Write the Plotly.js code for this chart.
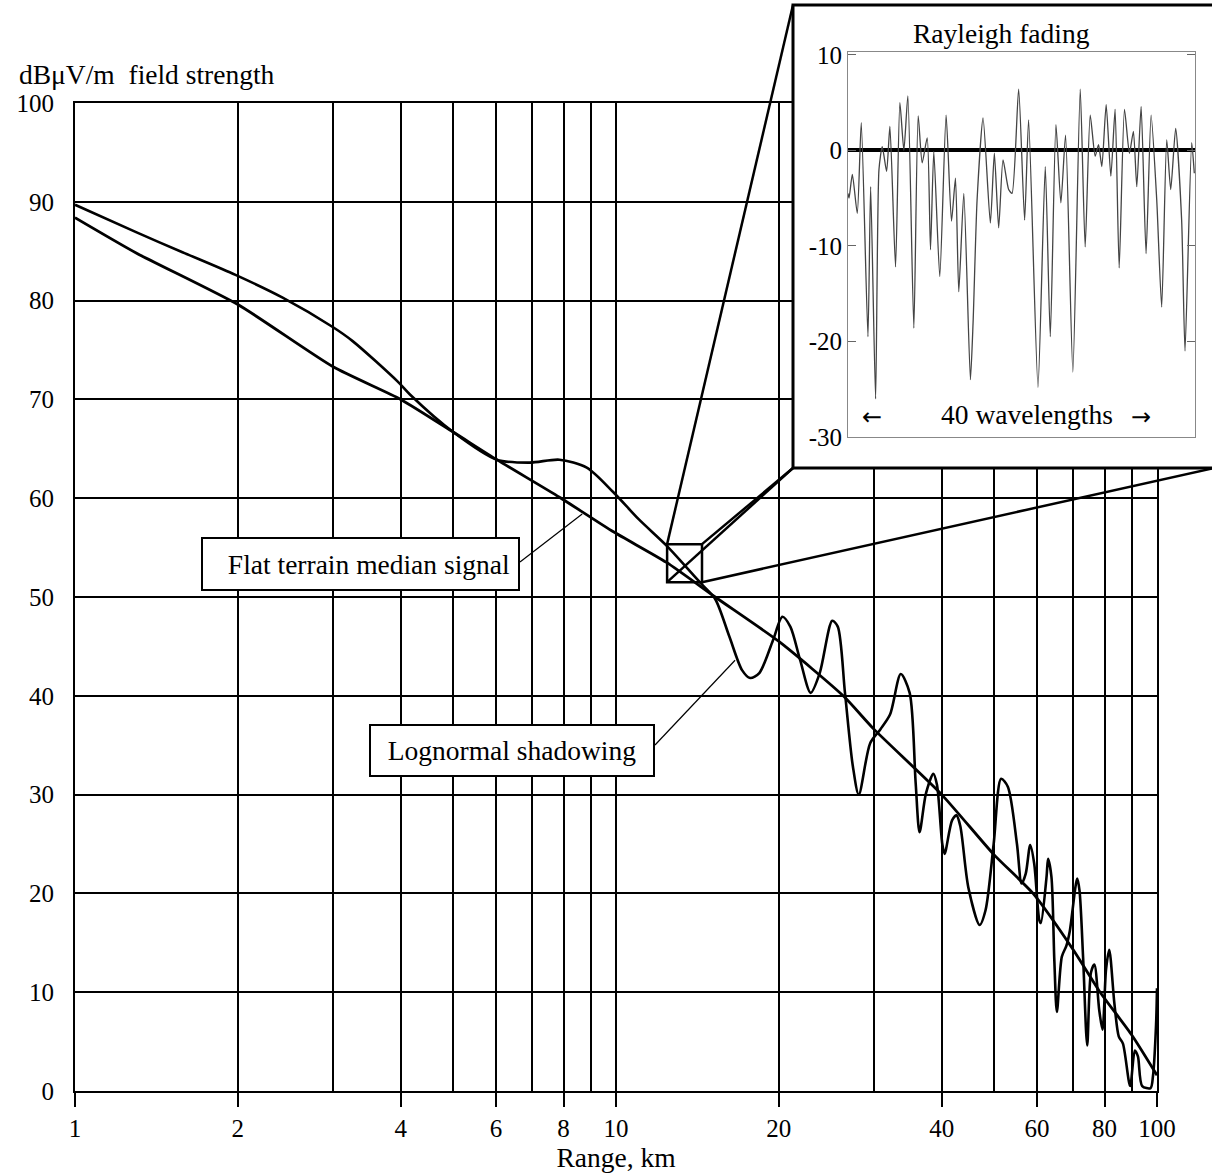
<!DOCTYPE html>
<html>
<head>
<meta charset="utf-8">
<script src="https://cdn.plot.ly/plotly-3.0.1.min.js"></script>
<style>
html,body{margin:0;padding:0;background:#fff;}
#chart{width:1212px;height:1173px;}
</style>
</head>
<body>
<div id="chart"></div>
<script>
// ---------------- data ----------------
// Main chart: field strength (dBuV/m) vs range (km)
const medianRange = [1, 1.3, 2, 3, 4, 5, 6.02, 7.86, 9.89, 12.4, 15.25, 20, 26.3, 30, 40, 50, 59, 70, 78.5, 90, 100];
const medianLevel = [88.4, 84.8, 79.6, 73.3, 70.0, 66.7, 63.9, 60.1, 56.6, 53.5, 50.0, 45.5, 40.0, 36.6, 30.0, 23.9, 20.0, 14.3, 10.0, 5.6, 1.6];

const shadowRange = [1, 1.30, 1.58, 1.98, 2.42, 3.0, 3.26, 3.95, 4.16, 5.0, 6.02, 6.93, 7.86, 8.83, 9.89, 11.0, 12.4, 13.5, 14.4, 15.25,
  16.2, 17.1, 17.7, 18.4, 19.5, 20.3, 21.0, 21.9, 22.9, 23.8, 25.1, 25.7, 26.5, 27.4, 28.1, 29.5, 30.8, 32.1, 33.6, 34.9,
  35.8, 36.4, 37.4, 38.6, 39.2, 40.1, 40.5, 41.8, 42.6, 43.3, 44.8, 47.0, 48.2, 49.9, 51.5, 53.0, 55.1, 56.2, 57.2, 58.3,
  59.3, 60.6, 61.0, 62.5, 62.9, 63.8, 64.6, 65.3, 66.7, 68.0, 69.0, 71.2, 71.9, 73.0, 74.3, 75.5, 76.6, 78.2, 79.3, 80.5,
  81.6, 83.4, 85.0, 86.5, 89.2, 91.0, 92.2, 93.9, 97.3, 98.3, 99.6, 100];
const shadowLevel = [89.7, 86.9, 84.9, 82.6, 80.3, 77.3, 75.9, 71.8, 70.5, 66.7, 63.9, 63.6, 63.9, 63.1, 60.6, 57.9, 55.2, 53.0, 51.3, 49.8,
  46.0, 42.6, 41.8, 42.3, 45.6, 48.0, 47.0, 43.6, 40.3, 42.3, 47.6, 47.0, 40.3, 32.9, 30.0, 35.2, 36.6, 38.1, 42.2, 40.3,
  31.2, 26.2, 30.1, 32.1, 31.0, 25.0, 24.0, 27.4, 27.9, 26.8, 20.6, 16.8, 18.3, 25.0, 31.6, 30.8, 25.0, 21.0, 22.0, 24.9,
  23.0, 17.3, 17.0, 21.7, 23.5, 21.7, 13.2, 8.0, 13.6, 14.7, 16.2, 21.5, 20.3, 13.6, 4.6, 12.0, 12.8, 8.2, 6.2, 12.3,
  14.3, 8.9, 5.5, 4.8, 0.5, 4.1, 3.5, 0.5, 0.3, 1.5, 6.7, 10.4];

// Inset: Rayleigh fading (dB) over 40 wavelengths
const fadeWl = [0, 0.12, 0.50, 1.07, 1.53, 2.30, 2.61, 3.18, 3.57, 3.95, 4.45, 4.83, 5.48, 5.98, 6.44, 6.90, 7.59, 8.09, 8.55, 9.13,
  9.51, 9.89, 10.58, 11.31, 11.93, 12.39, 12.77, 13.35, 14.11, 14.42, 14.88, 15.57, 16.41, 16.87, 17.37, 17.87, 18.52, 18.91, 19.67, 20.36,
  20.82, 21.90, 22.74, 23.32, 23.97, 24.54, 25.08, 25.92, 26.77, 27.34, 27.92, 28.49, 28.88, 29.26, 29.76, 30.30, 30.79, 31.26, 31.87, 32.44,
  32.90, 33.29, 33.79, 34.36, 34.94, 35.59, 36.16, 36.74, 37.20, 37.77, 38.46, 38.85, 39.62, 39.92];
const fadeDb = [-4.5, -5.0, -2.5, -6.6, 2.9, -19.5, -3.8, -26.0, -2.0, 0.4, -2.2, 2.5, -12.2, 5.0, 0.0, 5.7, -18.6, 3.6, -1.3, 1.3,
  -10.4, -0.1, -13.2, 3.7, -7.4, -2.9, -14.8, -4.5, -24.0, -18.0, -5.2, 3.4, -7.6, -0.3, -8.1, -1.0, -4.1, -4.5, 6.4, -7.3,
  3.2, -24.8, -1.7, -19.5, 2.7, -5.5, 1.6, -23.2, 6.4, -10.1, 3.7, -0.6, 0.6, -1.7, 4.8, -2.7, 4.3, -12.3, 4.3, -0.3,
  2.0, -3.8, 4.6, -10.8, 3.7, -5.2, -16.4, 1.1, -4.1, 2.3, -7.3, -21.0, 0.8, -2.4];

// tick labels
const xTickVals = [1, 2, 4, 6, 8, 10, 20, 40, 60, 80, 100];
const xTickText = ['1', '2', '4', '6', '8', '10', '20', '40', '60', '80', '100'];
const xMinorGrid = [3, 5, 7, 9, 30, 50, 70, 90];
const yTickVals = [0, 10, 20, 30, 40, 50, 60, 70, 80, 90, 100];
const insetTickVals = [-30, -20, -10, 0, 10];
const insetTickText = ['-30', '-20', '-10', '0', '10'];

// zoom window on the main chart (range km, dB)
const zoomRange = [12.43, 14.42];
const zoomLevel = [51.5, 55.35];
// callout targets (range km, dB)
const medianTarget = [8.66, 58.4];
const shadowTarget = [16.6, 43.6];

// ---------------- layout helpers ----------------
const W = 1212, H = 1173;
const M = {l: 75, r: 17, t: 5, b: 82};
const PW = W - M.l - M.r, PH = H - M.t - M.b;
const X = px => (px - M.l) / PW;          // pixel -> paper
const Y = py => (H - M.b - py) / PH;
const XD = (1157 - M.l) / PW;             // main x domain end
const YD = (H - M.b - 103) / PH;          // main y domain end
const dp = (r, v) => [Math.log10(r) / 2 * XD, v / 100 * YD]; // main data -> paper

const FONT = 'Liberation Serif, Times New Roman, serif';
const BLACK = '#000';
const TXT = 27.5;

const traces = [
  {x: medianRange, y: medianLevel, type: 'scatter', mode: 'lines', xaxis: 'x', yaxis: 'y',
   line: {color: BLACK, width: 2.8, shape: 'spline', smoothing: 0.6}, hoverinfo: 'skip'},
  {x: shadowRange, y: shadowLevel, type: 'scatter', mode: 'lines', xaxis: 'x', yaxis: 'y',
   line: {color: BLACK, width: 2.6, shape: 'spline', smoothing: 0.8}, hoverinfo: 'skip'},
  // empty trace to create the white inset frame subplot
  {x: [], y: [], type: 'scatter', mode: 'lines', xaxis: 'x2', yaxis: 'y2', hoverinfo: 'skip'},
  {x: fadeWl, y: fadeDb, type: 'scatter', mode: 'lines', xaxis: 'x3', yaxis: 'y3',
   line: {color: '#444', width: 1.3, shape: 'spline', smoothing: 0.6}, hoverinfo: 'skip'}
];

const sqTL = dp(zoomRange[0], zoomLevel[1]);
const sqBL = dp(zoomRange[0], zoomLevel[0]);
const sqTR = dp(zoomRange[1], zoomLevel[1]);
const sqBR = dp(zoomRange[1], zoomLevel[0]);
const mt = dp(medianTarget[0], medianTarget[1]);
const st = dp(shadowTarget[0], shadowTarget[1]);

function seg(a, b, w) {
  return {type: 'line', xref: 'paper', yref: 'paper', x0: a[0], y0: a[1], x1: b[0], y1: b[1],
          line: {color: BLACK, width: w}, layer: 'above'};
}

const shapes = [
  {type: 'rect', xref: 'paper', yref: 'paper', x0: sqBL[0], y0: sqBL[1], x1: sqTR[0], y1: sqTR[1],
   line: {color: BLACK, width: 2.5}, layer: 'above'},
  seg(sqTL, [X(793), Y(5)], 2.5),
  seg(sqBL, [X(793), Y(468)], 2.5),
  seg(sqTR, [X(793), Y(468)], 2.5),
  seg(sqBR, [X(1214), Y(468)], 2.5),
  {type: 'rect', xref: 'paper', yref: 'paper', x0: X(793), y0: Y(468), x1: X(1225), y1: Y(5),
   line: {color: BLACK, width: 3}, layer: 'above'},
  seg([X(520), Y(562)], mt, 1.2),
  seg([X(655), Y(745)], st, 1.2)
];

const annotations = [
  {text: 'dBμV/m  field strength', xref: 'paper', yref: 'paper', x: X(17), y: Y(75),
   xanchor: 'left', yanchor: 'middle', showarrow: false, font: {family: FONT, size: TXT, color: BLACK}},
  {text: 'Flat terrain median signal', xref: 'paper', yref: 'paper', x: X(360.5), y: Y(564),
   xanchor: 'center', yanchor: 'middle', showarrow: false, bgcolor: '#fff', bordercolor: BLACK,
   borderwidth: 2, borderpad: 8, width: 299, height: 34, align: 'right',
   font: {family: FONT, size: TXT, color: BLACK}},
  {text: 'Lognormal shadowing', xref: 'paper', yref: 'paper', x: X(512), y: Y(750.5),
   xanchor: 'center', yanchor: 'middle', showarrow: false, bgcolor: '#fff', bordercolor: BLACK,
   borderwidth: 2, borderpad: 8, width: 266, height: 33, align: 'center',
   font: {family: FONT, size: TXT, color: BLACK}},
  {text: 'Rayleigh fading', xref: 'paper', yref: 'paper', x: X(1002), y: Y(33),
   xanchor: 'center', yanchor: 'middle', showarrow: false, font: {family: FONT, size: TXT, color: BLACK}},
  {text: '40 wavelengths', xref: 'paper', yref: 'paper', x: X(1027), y: Y(414),
   xanchor: 'center', yanchor: 'middle', showarrow: false, font: {family: FONT, size: TXT, color: BLACK}},
  {text: '←', xref: 'paper', yref: 'paper', x: X(872), y: Y(417),
   xanchor: 'center', yanchor: 'middle', showarrow: false, font: {family: 'DejaVu Sans', size: 24, color: BLACK}},
  {text: '→', xref: 'paper', yref: 'paper', x: X(1141), y: Y(417),
   xanchor: 'center', yanchor: 'middle', showarrow: false, font: {family: 'DejaVu Sans', size: 24, color: BLACK}}
];

const tickFont = {family: FONT, size: 25, color: BLACK};

const layout = {
  width: W, height: H,
  margin: M,
  paper_bgcolor: '#fff', plot_bgcolor: '#fff',
  showlegend: false,
  font: {family: FONT, color: BLACK},
  xaxis: {
    type: 'log', range: [0, 2], domain: [0, XD], anchor: 'y',
    tickmode: 'array', tickvals: xTickVals, ticktext: xTickText,
    ticks: 'outside', ticklen: 14, tickwidth: 2, tickcolor: BLACK,
    showgrid: true, gridcolor: BLACK, gridwidth: 2,
    minor: {tickmode: 'array', tickvals: xMinorGrid, showgrid: true, gridcolor: BLACK, gridwidth: 2, ticks: ''},
    showline: true, linecolor: BLACK, linewidth: 2, mirror: true, zeroline: false,
    tickfont: tickFont, automargin: false, fixedrange: true,
    title: {text: 'Range, km', font: {family: FONT, size: TXT, color: BLACK}}
  },
  yaxis: {
    range: [0, 100], domain: [0, YD], anchor: 'x',
    tickmode: 'array', tickvals: yTickVals,
    ticks: 'outside', ticklen: 14, tickcolor: 'rgba(0,0,0,0)',
    showgrid: true, gridcolor: BLACK, gridwidth: 2,
    showline: true, linecolor: BLACK, linewidth: 2, mirror: true, zeroline: false,
    tickfont: tickFont, automargin: false, fixedrange: true
  },
  xaxis2: {domain: [X(793), 1], range: [0, 1], anchor: 'y2', showgrid: false, zeroline: false,
           showticklabels: false, ticks: '', showline: false, fixedrange: true},
  yaxis2: {domain: [Y(468), 1], range: [0, 1], anchor: 'x2', showgrid: false, zeroline: false,
           showticklabels: false, ticks: '', showline: false, fixedrange: true},
  xaxis3: {domain: [X(848), X(1195)], range: [0, 40], anchor: 'y3', showgrid: false, zeroline: false,
           showticklabels: false, ticks: '', showline: true, linecolor: '#888', linewidth: 1, mirror: true,
           fixedrange: true},
  yaxis3: {domain: [Y(437), Y(52)], range: [-30, 10.3], anchor: 'x3',
           tickmode: 'array', tickvals: insetTickVals, ticktext: insetTickText,
           ticks: 'inside', ticklen: 8, tickwidth: 1, tickcolor: '#666',
           showline: true, linecolor: '#888', linewidth: 1, mirror: 'ticks',
           showgrid: false, zeroline: true, zerolinecolor: BLACK, zerolinewidth: 4,
           tickfont: tickFont, fixedrange: true},
  shapes: shapes,
  annotations: annotations
};

Plotly.newPlot('chart', traces, layout, {staticPlot: true, displayModeBar: false});
</script>
</body>
</html>
